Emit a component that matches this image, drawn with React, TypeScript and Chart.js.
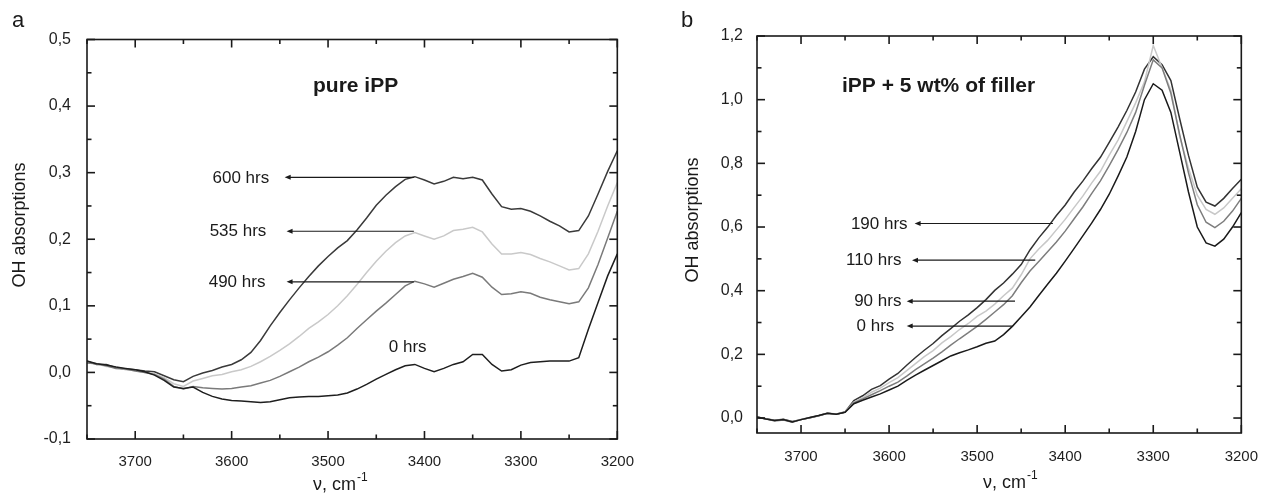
import React, { useEffect, useRef } from 'react';
import { Chart, registerables } from 'chart.js';

Chart.register(...registerables);

const FONT = '"Liberation Sans", Arial, Helvetica, sans-serif';

// ---------- shared wavenumber grid (cm^-1) ----------
const WAVENUMBERS = [
  3750, 3740, 3730, 3720, 3710, 3700, 3690, 3680, 3670, 3660,
  3650, 3640, 3630, 3620, 3610, 3600, 3590, 3580, 3570, 3560,
  3550, 3540, 3530, 3520, 3510, 3500, 3490, 3480, 3470, 3460,
  3450, 3440, 3430, 3420, 3410, 3400, 3390, 3380, 3370, 3360,
  3350, 3340, 3330, 3320, 3310, 3300, 3290, 3280, 3270, 3260,
  3250, 3240, 3230, 3220, 3210, 3200,
];

// ---------- panel a: pure iPP ----------
const A_600 = [
  0.017, 0.012, 0.012, 0.007, 0.005, 0.004, 0.002, 0.001, -0.005, -0.011,
  -0.014, -0.006, -0.001, 0.003, 0.008, 0.012, 0.019, 0.030, 0.048, 0.070,
  0.090, 0.109, 0.127, 0.144, 0.160, 0.174, 0.187, 0.198, 0.214, 0.232,
  0.251, 0.266, 0.279, 0.290, 0.294, 0.289, 0.283, 0.287, 0.293, 0.291,
  0.293, 0.289, 0.268, 0.249, 0.245, 0.246, 0.242, 0.235, 0.227, 0.220,
  0.211, 0.213, 0.235, 0.268, 0.302, 0.333,
];
const A_535 = [
  0.015, 0.013, 0.009, 0.008, 0.004, 0.003, 0.000, -0.002, -0.008, -0.017,
  -0.021, -0.013, -0.009, -0.005, -0.003, 0.001, 0.004, 0.009, 0.016, 0.024,
  0.033, 0.043, 0.054, 0.066, 0.076, 0.087, 0.100, 0.115, 0.132, 0.150,
  0.167, 0.182, 0.195, 0.205, 0.210, 0.205, 0.200, 0.205, 0.213, 0.215,
  0.218, 0.211, 0.193, 0.178, 0.178, 0.180, 0.177, 0.171, 0.166, 0.160,
  0.154, 0.156, 0.178, 0.212, 0.250, 0.285,
];
const A_490 = [
  0.014, 0.013, 0.010, 0.006, 0.005, 0.002, 0.000, -0.003, -0.010, -0.021,
  -0.025, -0.021, -0.023, -0.024, -0.025, -0.024, -0.022, -0.020, -0.016, -0.012,
  -0.006, 0.001, 0.008, 0.016, 0.023, 0.031, 0.041, 0.052, 0.066, 0.079,
  0.092, 0.104, 0.117, 0.130, 0.137, 0.133, 0.128, 0.134, 0.140, 0.144,
  0.149, 0.143, 0.128, 0.117, 0.118, 0.121, 0.119, 0.113, 0.109, 0.106,
  0.103, 0.106, 0.127, 0.162, 0.202, 0.242,
];
const A_0 = [
  0.017, 0.013, 0.011, 0.008, 0.006, 0.004, 0.001, -0.004, -0.012, -0.022,
  -0.024, -0.022, -0.030, -0.036, -0.040, -0.042, -0.043, -0.044, -0.045, -0.044,
  -0.041, -0.038, -0.037, -0.036, -0.036, -0.035, -0.034, -0.031, -0.025, -0.018,
  -0.010, -0.003, 0.004, 0.010, 0.012, 0.006, 0.001, 0.006, 0.012, 0.016,
  0.027, 0.027, 0.012, 0.002, 0.004, 0.011, 0.015, 0.016, 0.017, 0.017,
  0.017, 0.022, 0.065, 0.105, 0.145, 0.178,
];

const A_X_TICKS = [3700, 3600, 3500, 3400, 3300, 3200];
const A_X_MINOR = [3750, 3650, 3550, 3450, 3350, 3250];
const A_Y_TICKS = [-0.1, 0.0, 0.1, 0.2, 0.3, 0.4, 0.5];
const A_Y_MINOR = [-0.05, 0.05, 0.15, 0.25, 0.35, 0.45];

const A_LABELS = ['600 hrs', '535 hrs', '490 hrs'];
const A_LABEL_X = [3561, 3564, 3565];
const A_ARROW_Y = [0.293, 0.212, 0.136];
const A_ARROW_FROM = [3411, 3411, 3411];
const A_ARROW_TO = [3545, 3543, 3543];
const A_FREE_LABELS = ['0 hrs'];
const A_FREE_X = [3437];
const A_FREE_Y = [0.031];

// ---------- panel b: iPP + 5 wt% of filler ----------
const B_190 = [
  0.003, -0.002, -0.007, -0.004, -0.011, -0.005, 0.001, 0.007, 0.015, 0.012,
  0.019, 0.055, 0.070, 0.090, 0.102, 0.122, 0.140, 0.166, 0.190, 0.213,
  0.234, 0.259, 0.281, 0.304, 0.324, 0.347, 0.372, 0.401, 0.424, 0.452,
  0.482, 0.528, 0.566, 0.599, 0.636, 0.669, 0.709, 0.744, 0.783, 0.819,
  0.866, 0.914, 0.966, 1.024, 1.096, 1.135, 1.110, 1.060, 0.940, 0.825,
  0.725, 0.678, 0.666, 0.690, 0.721, 0.750,
];
const B_110 = [
  0.004, -0.003, -0.008, -0.005, -0.012, -0.004, 0.002, 0.008, 0.016, 0.013,
  0.020, 0.050, 0.064, 0.081, 0.094, 0.111, 0.127, 0.149, 0.171, 0.193,
  0.212, 0.236, 0.256, 0.278, 0.297, 0.319, 0.336, 0.358, 0.384, 0.408,
  0.450, 0.500, 0.531, 0.558, 0.591, 0.624, 0.661, 0.697, 0.738, 0.775,
  0.826, 0.873, 0.931, 0.990, 1.056, 1.170, 1.100, 1.030, 0.885, 0.785,
  0.700, 0.655, 0.640, 0.660, 0.690, 0.720,
];
const B_90 = [
  0.002, -0.002, -0.009, -0.006, -0.013, -0.005, 0.001, 0.007, 0.015, 0.012,
  0.019, 0.048, 0.060, 0.073, 0.086, 0.100, 0.113, 0.132, 0.152, 0.170,
  0.188, 0.208, 0.229, 0.249, 0.268, 0.288, 0.310, 0.333, 0.356, 0.384,
  0.425, 0.462, 0.492, 0.522, 0.553, 0.587, 0.625, 0.663, 0.705, 0.745,
  0.793, 0.843, 0.897, 0.960, 1.045, 1.125, 1.100, 1.020, 0.890, 0.770,
  0.670, 0.615, 0.598, 0.618, 0.650, 0.690,
];
const B_0 = [
  0.003, -0.003, -0.008, -0.005, -0.012, -0.005, 0.002, 0.008, 0.015, 0.012,
  0.018, 0.045, 0.056, 0.066, 0.076, 0.088, 0.100, 0.118, 0.135, 0.150,
  0.165, 0.180, 0.195, 0.205, 0.214, 0.224, 0.235, 0.242, 0.262, 0.288,
  0.318, 0.349, 0.385, 0.420, 0.455, 0.493, 0.532, 0.572, 0.612, 0.655,
  0.703, 0.760, 0.820, 0.900, 1.000, 1.050, 1.030, 0.960, 0.835, 0.710,
  0.600, 0.550, 0.540, 0.562, 0.600, 0.645,
];

const B_X_TICKS = [3700, 3600, 3500, 3400, 3300, 3200];
const B_X_MINOR = [3750, 3650, 3550, 3450, 3350, 3250];
const B_Y_TICKS = [0.0, 0.2, 0.4, 0.6, 0.8, 1.0, 1.2];
const B_Y_MINOR = [0.1, 0.3, 0.5, 0.7, 0.9, 1.1];

const B_LABELS = ['190 hrs', '110 hrs', '90 hrs', '0 hrs'];
const B_LABEL_X = [3579, 3586, 3586, 3594];
const B_ARROW_Y = [0.611, 0.496, 0.367, 0.289];
const B_ARROW_FROM = [3414, 3434, 3457, 3460];
const B_ARROW_TO = [3571, 3574, 3580, 3580];

type Series = { name: string; ys: number[]; color: string };

type PanelCfg = {
  series: Series[];
  yMin: number;
  yMax: number;
  xMajor: number[];
  xMinor: number[];
  yMajor: number[];
  yMinor: number[];
  labels: string[];
  labelX: number[];
  arrowY: number[];
  arrowFrom: number[];
  arrowTo: number[];
  freeLabels: string[];
  freeX: number[];
  freeY: number[];
  letter: string;
  letterX: number;
  title: string;
  titleX: number;
  yTitleX: number;
  yTitleY: number;
  xTitleX: number;
  xTitleY: number;
  yAxisW: number;
  xAxisH: number;
  padTop: number;
  padRight: number;
  yTickPad: number;
  xTickPad: number;
};

const fmtComma = (v: number) => v.toFixed(1).replace('.', ',');

function makeChart(canvas: HTMLCanvasElement, cfg: PanelCfg) {
  const datasets = cfg.series.map((s) => ({
    label: s.name,
    data: WAVENUMBERS.map((x, i) => ({ x, y: s.ys[i] })),
    borderColor: s.color,
    backgroundColor: s.color,
    borderWidth: 1.5,
    pointRadius: 0,
    tension: 0,
    fill: false,
  }));

  const overlay = {
    id: 'overlay',
    afterDraw(chart: any) {
      const { ctx, chartArea: ca, scales } = chart;
      const xs = scales.x;
      const ys = scales.y;
      ctx.save();
      ctx.strokeStyle = '#1a1a1a';
      ctx.fillStyle = '#1a1a1a';
      ctx.lineWidth = 1.6;
      ctx.strokeRect(ca.left, ca.top, ca.right - ca.left, ca.bottom - ca.top);
      const seg = (x1: number, y1: number, x2: number, y2: number) => {
        ctx.beginPath();
        ctx.moveTo(x1, y1);
        ctx.lineTo(x2, y2);
        ctx.stroke();
      };
      const MAJ = 8;
      const MIN = 4.5;
      cfg.xMajor.forEach((v) => {
        const p = xs.getPixelForValue(v);
        seg(p, ca.bottom, p, ca.bottom - MAJ);
        seg(p, ca.top, p, ca.top + MAJ);
      });
      cfg.xMinor.forEach((v) => {
        const p = xs.getPixelForValue(v);
        seg(p, ca.bottom, p, ca.bottom - MIN);
        seg(p, ca.top, p, ca.top + MIN);
      });
      cfg.yMajor.forEach((v) => {
        const p = ys.getPixelForValue(v);
        seg(ca.left, p, ca.left + MAJ, p);
        seg(ca.right, p, ca.right - MAJ, p);
      });
      cfg.yMinor.forEach((v) => {
        const p = ys.getPixelForValue(v);
        seg(ca.left, p, ca.left + MIN, p);
        seg(ca.right, p, ca.right - MIN, p);
      });

      // arrows + labels
      ctx.lineWidth = 1.2;
      ctx.font = `17px ${FONT}`;
      ctx.textBaseline = 'middle';
      cfg.labels.forEach((t, i) => {
        const y = ys.getPixelForValue(cfg.arrowY[i]);
        const x1 = xs.getPixelForValue(cfg.arrowFrom[i]);
        const x2 = xs.getPixelForValue(cfg.arrowTo[i]);
        seg(x1, y, x2 + 4, y);
        ctx.beginPath();
        ctx.moveTo(x2, y);
        ctx.lineTo(x2 + 6, y - 2.5);
        ctx.lineTo(x2 + 6, y + 2.5);
        ctx.closePath();
        ctx.fill();
        ctx.textAlign = 'right';
        ctx.fillStyle = '#1a1a1a';
        ctx.fillText(t, xs.getPixelForValue(cfg.labelX[i]), y + 0.5);
      });
      ctx.textBaseline = 'alphabetic';
      cfg.freeLabels.forEach((t, i) => {
        ctx.textAlign = 'left';
        ctx.fillText(t, xs.getPixelForValue(cfg.freeX[i]), ys.getPixelForValue(cfg.freeY[i]));
      });

      // panel letter
      ctx.textAlign = 'left';
      ctx.font = `22px ${FONT}`;
      ctx.fillText(cfg.letter, cfg.letterX, 27);

      // title
      ctx.font = `bold 21px ${FONT}`;
      ctx.fillText(cfg.title, cfg.titleX, 92);

      // y title
      ctx.save();
      ctx.font = `18px ${FONT}`;
      ctx.translate(cfg.yTitleX, cfg.yTitleY);
      ctx.rotate(-Math.PI / 2);
      ctx.textAlign = 'center';
      ctx.textBaseline = 'middle';
      ctx.fillText('OH absorptions', 0, 0);
      ctx.restore();

      // x title with superscript
      ctx.font = `18px ${FONT}`;
      ctx.textAlign = 'left';
      const main = '\u03BD, cm';
      ctx.fillText(main, cfg.xTitleX, cfg.xTitleY);
      const w = ctx.measureText(main).width;
      ctx.font = `12px ${FONT}`;
      ctx.fillText('-1', cfg.xTitleX + w + 1, cfg.xTitleY - 9);

      ctx.restore();
    },
  };

  return new Chart(canvas, {
    type: 'line',
    data: { datasets },
    options: {
      animation: false,
      responsive: false,
      devicePixelRatio: 1,
      layout: { padding: { top: cfg.padTop, right: cfg.padRight, left: 0, bottom: 0 } },
      plugins: { legend: { display: false }, tooltip: { enabled: false } },
      scales: {
        x: {
          type: 'linear',
          reverse: true,
          min: 3200,
          max: 3750,
          grid: { display: false },
          border: { display: false },
          afterBuildTicks: (s: any) => {
            s.ticks = cfg.xMajor.map((v) => ({ value: v }));
          },
          afterFit: (s: any) => {
            s.height = cfg.xAxisH;
          },
          ticks: {
            autoSkip: false,
            maxRotation: 0,
            padding: cfg.xTickPad,
            color: '#1e1e1e',
            font: { family: FONT, size: 15 },
            callback: (v: any) => String(v),
          },
        },
        y: {
          type: 'linear',
          min: cfg.yMin,
          max: cfg.yMax,
          grid: { display: false },
          border: { display: false },
          afterBuildTicks: (s: any) => {
            s.ticks = cfg.yMajor.map((v) => ({ value: v }));
          },
          afterFit: (s: any) => {
            s.width = cfg.yAxisW;
          },
          ticks: {
            autoSkip: false,
            padding: cfg.yTickPad,
            color: '#1e1e1e',
            font: { family: FONT, size: 16 },
            callback: (v: any) => fmtComma(Number(v)),
          },
        },
      },
    },
    plugins: [overlay],
  } as any);
}

const PANEL_A: PanelCfg = {
  series: [
    { name: '0 hrs', ys: A_0, color: '#1e1e1e' },
    { name: '490 hrs', ys: A_490, color: '#7a7a7a' },
    { name: '535 hrs', ys: A_535, color: '#c9c9c9' },
    { name: '600 hrs', ys: A_600, color: '#3a3a3a' },
  ],
  yMin: -0.1,
  yMax: 0.5,
  xMajor: A_X_TICKS,
  xMinor: A_X_MINOR,
  yMajor: A_Y_TICKS,
  yMinor: A_Y_MINOR,
  labels: A_LABELS,
  labelX: A_LABEL_X,
  arrowY: A_ARROW_Y,
  arrowFrom: A_ARROW_FROM,
  arrowTo: A_ARROW_TO,
  freeLabels: A_FREE_LABELS,
  freeX: A_FREE_X,
  freeY: A_FREE_Y,
  letter: 'a',
  letterX: 12,
  title: 'pure iPP',
  titleX: 313,
  yTitleX: 20,
  yTitleY: 225,
  xTitleX: 313,
  xTitleY: 490,
  yAxisW: 87,
  xAxisH: 58,
  padTop: 39.5,
  padRight: 16,
  yTickPad: 8,
  xTickPad: 6,
};

const PANEL_B: PanelCfg = {
  series: [
    { name: '0 hrs', ys: B_0, color: '#1a1a1a' },
    { name: '90 hrs', ys: B_90, color: '#7d7d7d' },
    { name: '110 hrs', ys: B_110, color: '#c8c8c8' },
    { name: '190 hrs', ys: B_190, color: '#333333' },
  ],
  yMin: -0.047,
  yMax: 1.2,
  xMajor: B_X_TICKS,
  xMinor: B_X_MINOR,
  yMajor: B_Y_TICKS,
  yMinor: B_Y_MINOR,
  labels: B_LABELS,
  labelX: B_LABEL_X,
  arrowY: B_ARROW_Y,
  arrowFrom: B_ARROW_FROM,
  arrowTo: B_ARROW_TO,
  freeLabels: [],
  freeX: [],
  freeY: [],
  letter: 'b',
  letterX: 41,
  title: 'iPP + 5 wt% of filler',
  titleX: 202,
  yTitleX: 53,
  yTitleY: 220,
  xTitleX: 343,
  xTitleY: 488,
  yAxisW: 117,
  xAxisH: 64,
  padTop: 36,
  padRight: 19,
  yTickPad: 6,
  xTickPad: 7,
};

function Panel({ cfg, left, width }: { cfg: PanelCfg; left: number; width: number }) {
  const ref = useRef<HTMLCanvasElement | null>(null);
  useEffect(() => {
    if (!ref.current) return;
    const chart = makeChart(ref.current, cfg);
    return () => chart.destroy();
  }, [cfg]);
  return (
    <canvas
      ref={ref}
      width={width}
      height={497}
      style={{ position: 'absolute', left, top: 0, width, height: 497, display: 'block' }}
    />
  );
}

export default function App() {
  return (
    <div
      style={{
        position: 'absolute',
        left: 0,
        top: 0,
        width: 1265,
        height: 497,
        background: '#ffffff',
        overflow: 'hidden',
      }}
    >
      <Panel cfg={PANEL_A} left={0} width={640} />
      <Panel cfg={PANEL_B} left={640} width={625} />
    </div>
  );
}
